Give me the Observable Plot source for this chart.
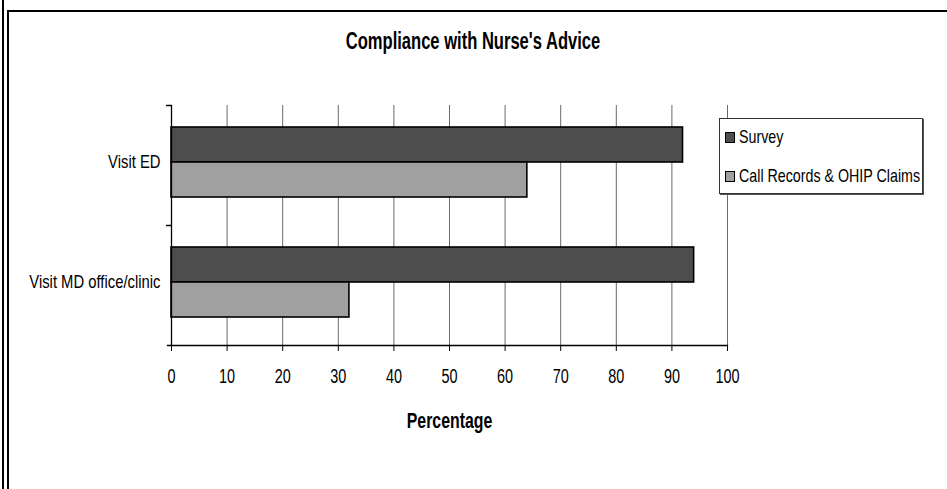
<!DOCTYPE html>
<html>
<head>
<meta charset="utf-8">
<script src="https://cdn.jsdelivr.net/npm/d3@7"></script>
<script src="https://cdn.jsdelivr.net/npm/@observablehq/plot@0.6"></script>
<style>
  html, body { margin: 0; padding: 0; background: #fff; }
  #wrap { position: relative; width: 947px; height: 489px; overflow: hidden;
    font-family: "Liberation Sans", Arial, sans-serif; color: #000; }
  #wrap svg { position: absolute; left: 0; top: 0; font-family: "Liberation Sans", Arial, sans-serif; }
  .border-outer { position: absolute; left: 2px; top: 0; width: 2px; height: 489px; background: #000; }
  .border-inner { position: absolute; left: 7px; top: 10px; width: 940px; height: 479px;
    border-left: 2px solid #000; border-top: 2px solid #000; box-sizing: border-box; }
  #title { position: absolute; left: 0; top: 30px; width: 946px; text-align: center;
    font-weight: bold; font-size: 23px; line-height: 23px; white-space: nowrap;
    transform: scaleX(0.72); transform-origin: 473px 0; }
  #legend { position: absolute; left: 719px; top: 118px; width: 204px; height: 76px; box-sizing: border-box;
    border: 1px solid #333; box-shadow: 1px 1px 0 #555; background: #fff; }
  .item { position: absolute; left: 5px; height: 22px; display: flex; align-items: center;
    font-size: 19px; white-space: nowrap; }
  .sw { width: 8px; height: 9px; border: 1px solid #000; margin-right: 4px; box-sizing: content-box; flex: none; }
  .lt { display: inline-block; transform: scaleX(0.75); transform-origin: 0 50%; }
</style>
</head>
<body>
<div id="wrap">
  <div class="border-outer"></div>
  <div class="border-inner"></div>
  <div id="title"></div>
  <div id="chart"></div>
  <div id="legend"></div>
</div>
<script>
// ---- data ----
const titleText = "Compliance with Nurse's Advice";
const xLabel = "Percentage";
const categories = ["Visit ED", "Visit MD office/clinic"];
const seriesNames = ["Survey", "Call Records & OHIP Claims"];
const surveyValues = [92, 94];
const callRecordValues = [64, 32];
const xTicks = [0, 10, 20, 30, 40, 50, 60, 70, 80, 90, 100];
const seriesColors = ["#4d4d4d", "#a0a0a0"];

const rows = categories.flatMap((c, i) => [
  {category: c, series: seriesNames[0], value: surveyValues[i]},
  {category: c, series: seriesNames[1], value: callRecordValues[i]}
]);

document.getElementById("title").textContent = titleText;

const tickShape = {draw(context, l) { context.moveTo(0, 0); context.lineTo(0, -l); }};

const chart = Plot.plot({
  width: 947,
  height: 489,
  marginLeft: 171,
  marginRight: 220,
  marginTop: 105,
  marginBottom: 144,
  style: {background: "transparent", overflow: "visible"},
  x: {domain: [0, 100]},
  y: {domain: seriesNames, paddingInner: 0, paddingOuter: 0.714, align: 0.43, axis: null},
  fy: {domain: categories, padding: 0, label: null},
  color: {domain: seriesNames, range: seriesColors},
  marks: [
    Plot.ruleX(xTicks, {stroke: "#6a6a6a", strokeWidth: 1}),
    Plot.barX(rows, {fy: "category", y: "series", x: "value", fill: "series", stroke: "#000", strokeWidth: 1.6}),
    Plot.ruleX([0], {stroke: "#000", strokeWidth: 1.3}),
    Plot.frame({anchor: "bottom", facetAnchor: "bottom", stroke: "#000", strokeWidth: 1.3, insetLeft: -4}),
    Plot.vector([0], {frameAnchor: "top-left", length: 5, rotate: -90, anchor: "start", shape: tickShape, stroke: "#000", strokeWidth: 1.3}),
    Plot.axisX({ticks: xTicks, tickSize: 6, tickPadding: 18, fontSize: 19.5, tickFormat: d => String(d), label: null}),
    Plot.axisX({ticks: [], tickSize: 0, label: xLabel, labelAnchor: "center", labelArrow: "none", labelOffset: 82, fontSize: 22, fontWeight: "bold"}),
    Plot.axisFy({anchor: "left", tickSize: 0, tickPadding: 11, fontSize: 19, dy: -4, label: null})
  ]
});
document.getElementById("chart").appendChild(chart);

// condense the SVG texts horizontally (the reference uses a narrow face)
chart.querySelectorAll("text").forEach(t => {
  const len = t.getComputedTextLength();
  if (!len) return;
  const fs = parseFloat(getComputedStyle(t).fontSize);
  const bold = getComputedStyle(t).fontWeight >= 600 || getComputedStyle(t).fontWeight === "bold";
  const ratio = bold ? 0.72 : (fs > 19.2 ? 0.74 : 0.78);
  t.setAttribute("textLength", (len * ratio).toFixed(2));
  t.setAttribute("lengthAdjust", "spacingAndGlyphs");
});

// legend
const legend = document.getElementById("legend");
seriesNames.forEach((name, i) => {
  const item = document.createElement("div");
  item.className = "item";
  item.style.top = (7 + i * 39) + "px";
  const sw = document.createElement("span");
  sw.className = "sw";
  sw.style.background = seriesColors[i];
  const t = document.createElement("span");
  t.className = "lt";
  t.textContent = name;
  item.appendChild(sw);
  item.appendChild(t);
  legend.appendChild(item);
});
</script>
</body>
</html>
